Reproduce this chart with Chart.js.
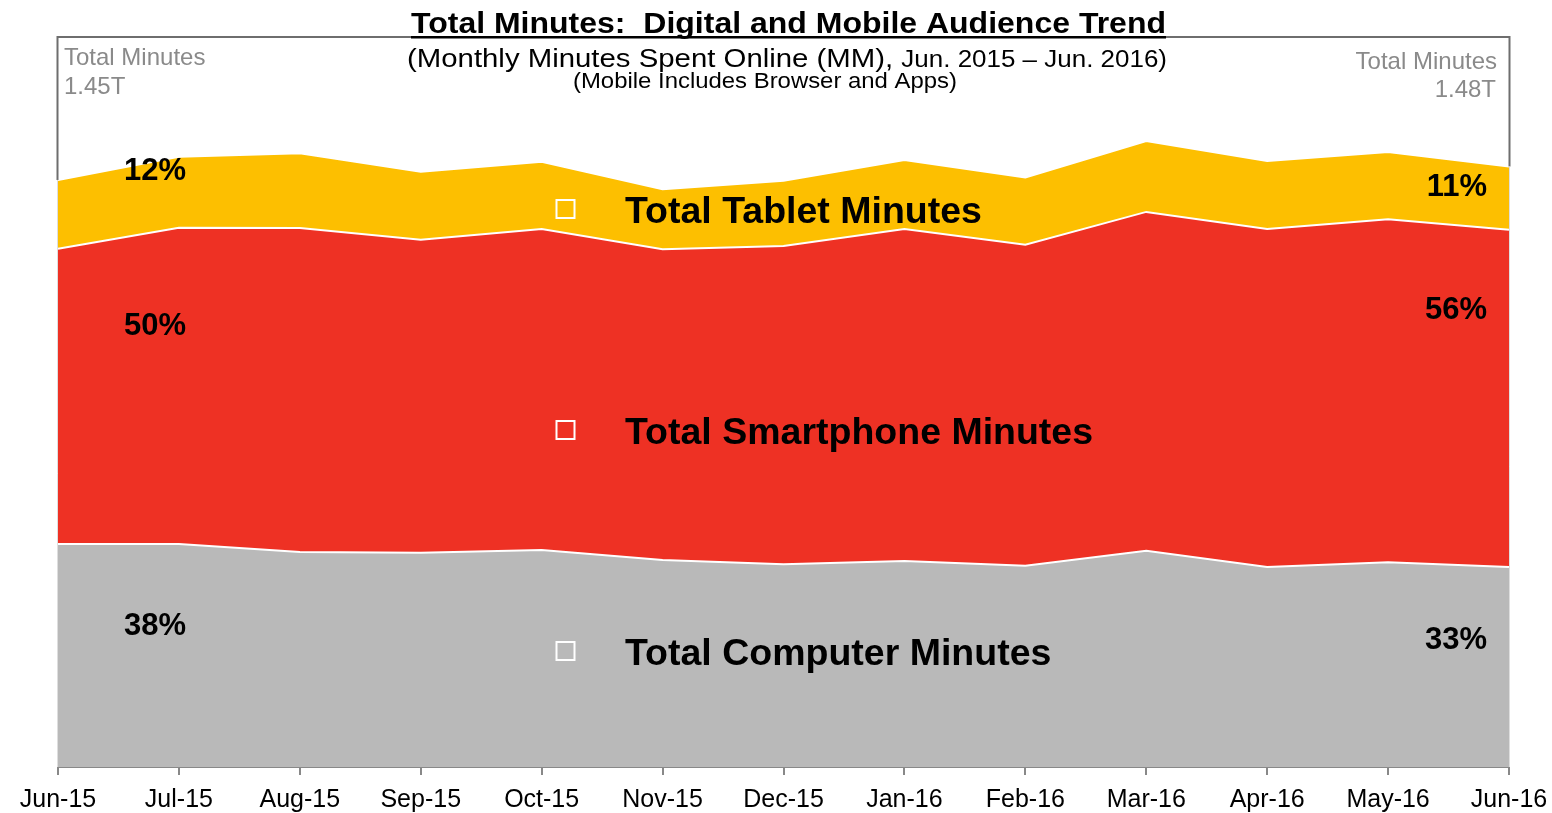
<!DOCTYPE html>
<html><head><meta charset="utf-8">
<script src="https://cdn.jsdelivr.net/npm/chart.js@4.4.0/dist/chart.umd.min.js"></script>
<style>html,body{margin:0;padding:0;background:#fff;}#wrap{position:relative;width:1552px;height:813px;}canvas{display:block}</style>
</head><body><div id="wrap"><canvas id="c" width="1552" height="813"></canvas></div>
<script>
// ---- data (billions of minutes) ----
const months = ['Jun-15','Jul-15','Aug-15','Sep-15','Oct-15','Nov-15','Dec-15','Jan-16','Feb-16','Mar-16','Apr-16','May-16','Jun-16'];
const computerMinutes   = [551,551,531,529,536,511,501,509,497,534,494,506,494];
const smartphoneMinutes = [729,781,800,773,793,768,786,820,793,837,835,847,833];
const tabletMinutes     = [170,175,185,168,166,148,161,170,166,175,168,166,156];
const seriesNames = ['Total Computer Minutes','Total Smartphone Minutes','Total Tablet Minutes'];
const startShares = ['38%','50%','12%'];
const endShares   = ['33%','56%','11%'];
const totalLabel = 'Total Minutes';
const startTotal = '1.45T';
const endTotal   = '1.48T';
const titleText = 'Total Minutes:  Digital and Mobile Audience Trend';
const subtitleA = '(Monthly Minutes Spent Online (MM), ';
const subtitleB = 'Jun. 2015 \u2013 Jun. 2016)';
const noteText  = '(Mobile Includes Browser and Apps)';
const yMax = 1803;

const FONT = "'Liberation Sans', Arial, Helvetica, sans-serif";
const COLORS = ['#B9B9B9','#EE3124','#FDBF00'];

function stretchText(ctx, text, x, y, sx){
  ctx.save(); ctx.translate(x, y); ctx.scale(sx, 1); ctx.textAlign = 'left'; ctx.fillText(text, 0, 0); ctx.restore();
}

const overlay = {
  id:'overlay',
  afterDatasetsDraw(chart){
    const ctx = chart.ctx, a = chart.chartArea;
    const top = chart.getDatasetMeta(2).data;
    const yL = top[0].y, yR = top[top.length-1].y;
    ctx.save();
    // frame (visible only above the areas)
    ctx.strokeStyle = '#6e6e6e'; ctx.lineWidth = 2;
    ctx.beginPath();
    ctx.moveTo(a.left-0.5, yL); ctx.lineTo(a.left-0.5, a.top); ctx.lineTo(a.right+0.5, a.top); ctx.lineTo(a.right+0.5, yR);
    ctx.stroke();
    ctx.strokeStyle = '#dedede'; ctx.lineWidth = 1;
    ctx.beginPath();
    ctx.moveTo(a.left-0.5, yL); ctx.lineTo(a.left-0.5, a.bottom);
    ctx.moveTo(a.right+0.5, yR); ctx.lineTo(a.right+0.5, a.bottom);
    ctx.stroke();

    // title (slightly wide face)
    ctx.fillStyle = '#000';
    ctx.textBaseline = 'alphabetic';
    ctx.font = 'bold 30px ' + FONT;
    const tw = ctx.measureText(titleText).width;
    const tTarget = 755, tsx = tTarget / tw;
    stretchText(ctx, titleText, 411, 33, tsx);
    ctx.fillRect(411, 36, tTarget, 2.5);

    // subtitle
    ctx.font = '26px ' + FONT; const w1 = ctx.measureText(subtitleA).width;
    ctx.font = '23px ' + FONT; const w2 = ctx.measureText(subtitleB).width;
    const ssx = 760 / (w1 + w2);
    ctx.font = '26px ' + FONT; stretchText(ctx, subtitleA, 407, 67, ssx);
    ctx.font = '23px ' + FONT; stretchText(ctx, subtitleB, 407 + w1*ssx, 67, ssx);
    ctx.font = '22px ' + FONT;
    const w3 = ctx.measureText(noteText).width;
    stretchText(ctx, noteText, 573, 88, 384 / w3);

    // totals
    ctx.fillStyle = '#8a8a8a';
    ctx.font = '24px ' + FONT;
    ctx.textAlign = 'left';
    ctx.fillText(totalLabel, 64, 65);
    ctx.fillText(startTotal, 64, 94);
    ctx.textAlign = 'right';
    ctx.fillText(totalLabel, 1497, 69);
    ctx.fillText(endTotal, 1496, 97);

    // shares
    ctx.fillStyle = '#000';
    ctx.font = 'bold 31px ' + FONT;
    const leftBase = [635, 335, 180];
    const rightBase = [649, 319, 196];
    for (let i=0;i<3;i++){
      ctx.textAlign = 'center';
      ctx.fillText(startShares[i], 155, leftBase[i]);
      ctx.textAlign = 'right';
      ctx.fillText(endShares[i], 1487, rightBase[i]);
    }
    // inline legend
    const legY = [651, 430, 209];
    ctx.font = 'bold 37.5px ' + FONT;
    ctx.textAlign = 'left';
    for (let i=0;i<3;i++){
      ctx.strokeStyle = '#fff'; ctx.lineWidth = 2;
      ctx.strokeRect(556.5, legY[i]-9, 18, 18);
      ctx.fillStyle = '#000';
      ctx.fillText(seriesNames[i], 625, legY[i]+13.5);
    }
    ctx.restore();
  }
};

const ds = [computerMinutes, smartphoneMinutes, tabletMinutes].map((d,i)=>({
  label: seriesNames[i],
  data: d,
  backgroundColor: COLORS[i],
  borderColor: '#ffffff',
  borderWidth: 2,
  fill: i===0 ? 'origin' : '-1',
  pointRadius: 0,
  tension: 0
}));

new Chart(document.getElementById('c'), {
  type: 'line',
  data: { labels: months, datasets: ds },
  options: {
    responsive: false, animation: false, devicePixelRatio: 1,
    layout: { padding: { top: 37, left: 58, right: 43, bottom: 0 } },
    plugins: { legend: { display: false }, tooltip: { enabled: false }, title: { display: false } },
    scales: {
      y: { display: false, stacked: true, min: 0, max: yMax },
      x: {
        offset: false,
        afterFit(scale){ scale.height = 46; },
        grid: { display: true, drawOnChartArea: false, drawTicks: true, tickLength: 8, color: '#888', lineWidth: 2, offset: false },
        border: { display: true, color: '#888', width: 2 },
        ticks: { color: '#000', font: { family: FONT, size: 25, lineHeight: 1.7 }, padding: 4, maxRotation: 0, autoSkip: false }
      }
    }
  },
  plugins: [overlay]
});
</script></body></html>
